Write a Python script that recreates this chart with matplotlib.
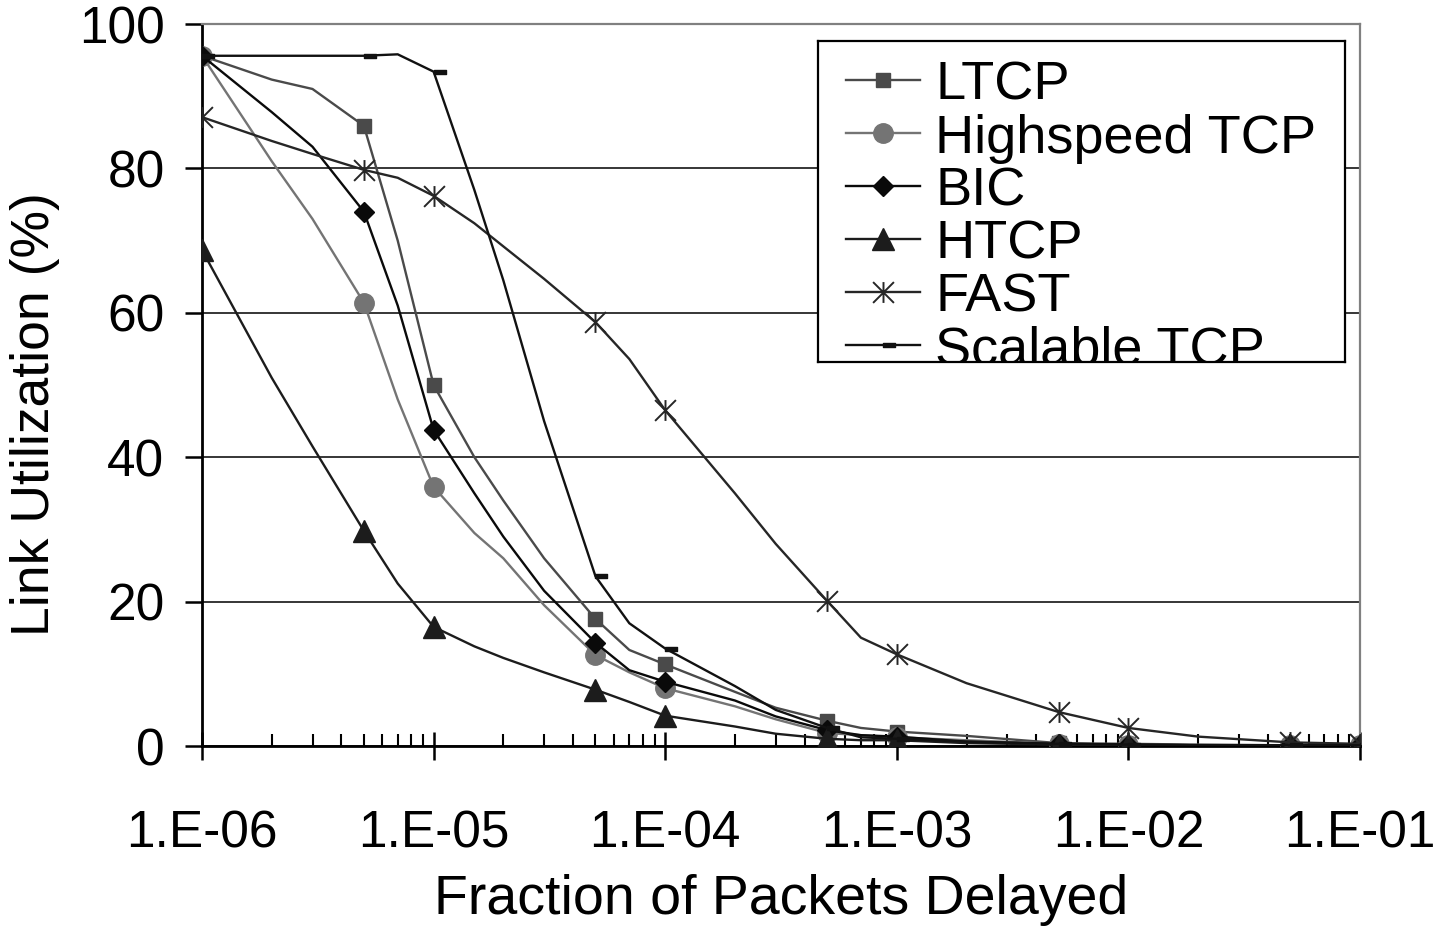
# link_utilization_vs_delay.py

import matplotlib.pyplot as plt
from matplotlib.path import Path
from matplotlib.lines import Line2D

plt.rcParams['font.family'] = ['Liberation Sans', 'DejaVu Sans']

# --- Datos ---
fraction = [1e-6, 2e-6, 3e-6, 5e-6, 7e-6, 1e-5, 1.5e-5, 2e-5, 3e-5, 5e-5, 7e-5, 1e-4,
            2e-4, 3e-4, 5e-4, 7e-4, 1e-3, 2e-3, 5e-3, 1e-2, 2e-2, 5e-2, 1e-1]
marker_idx = [0, 3, 5, 9, 11, 14, 16, 18, 19, 21, 22]

ltcp = [95.6, 92.3, 91.0, 85.9, 70.0, 50.0, 40.0, 34.0, 26.0, 17.6, 13.3, 11.3,
        7.5, 5.3, 3.5, 2.5, 2.0, 1.4, 0.4, 0.3, 0.2, 0.1, 0.1]
highspeed = [95.6, 81.0, 73.0, 61.4, 48.0, 35.9, 29.5, 26.0, 19.5, 12.6, 10.2, 8.0,
             5.5, 3.7, 1.8, 1.5, 1.2, 0.8, 0.3, 0.2, 0.1, 0.1, 0.1]
bic = [95.6, 87.8, 83.0, 74.0, 61.0, 43.8, 35.0, 29.0, 21.5, 14.3, 10.5, 8.9,
       6.3, 4.1, 2.2, 1.5, 1.3, 0.6, 0.3, 0.2, 0.1, 0.1, 0.1]
htcp = [68.7, 51.0, 41.5, 29.8, 22.5, 16.5, 13.8, 12.2, 10.2, 7.8, 6.1, 4.2,
        2.7, 1.7, 1.0, 0.8, 0.8, 0.4, 0.2, 0.1, 0.1, 0.1, 0.1]
fast = [87.1, 83.8, 82.0, 79.8, 78.7, 76.2, 72.4, 69.2, 64.7, 58.7, 53.6, 46.5,
        35.0, 28.0, 20.1, 15.0, 12.7, 8.7, 4.7, 2.5, 1.3, 0.5, 0.3]
scalable = [95.6, 95.6, 95.6, 95.6, 95.8, 93.4, 77.0, 64.5, 45.0, 23.5, 17.0, 13.5,
            8.3, 5.0, 2.5, 1.2, 1.0, 0.6, 0.3, 0.2, 0.1, 0.1, 0.1]

xtick_vals = [1e-6, 1e-5, 1e-4, 1e-3, 1e-2, 1e-1]
xtick_labels = ["1.E-06", "1.E-05", "1.E-04", "1.E-03", "1.E-02", "1.E-01"]
ytick_vals = [0, 20, 40, 60, 80, 100]

# --- Marcadores estilo Excel ---
star = Path([(-1, -1), (1, 1), (-1, 1), (1, -1), (0, -1), (0, 1)],
            [Path.MOVETO, Path.LINETO, Path.MOVETO, Path.LINETO, Path.MOVETO, Path.LINETO])
dash = Path([(0, -0.17), (1, -0.17), (1, 0.17), (0, 0.17), (0, -0.17)],
            [Path.MOVETO, Path.LINETO, Path.LINETO, Path.LINETO, Path.CLOSEPOLY])

series = [
    ("LTCP", ltcp, dict(color="#4a4a4a", marker="s", ms=9.5)),
    ("Highspeed TCP", highspeed, dict(color="#747474", marker="o", ms=14)),
    ("BIC", bic, dict(color="#0a0a0a", marker="D", ms=10.5)),
    ("HTCP", htcp, dict(color="#1c1c1c", marker="^", ms=15.5)),
    ("FAST", fast, dict(color="#262626", marker=star, ms=15, mfc="none", mew=1.4)),
    ("Scalable TCP", scalable, dict(color="#111111", marker=dash, ms=17)),
]

# --- Figura ---
fig = plt.figure(figsize=(14.39, 9.30), dpi=100)
ax = fig.add_axes([202 / 1439, 1 - 746 / 930, 1158 / 1439, 722 / 930])

for name, vals, style in series:
    ax.plot(fraction, vals, lw=1.7, markevery=marker_idx, zorder=3, **style)

ax.set_xscale("log")
ax.set_xlim(1e-6, 1e-1)
ax.set_ylim(0, 100)
ax.set_xticks(xtick_vals)
ax.set_xticklabels(xtick_labels)
ax.set_yticks(ytick_vals)
ax.tick_params(axis="x", which="major", direction="inout", length=20, width=1.8,
               labelsize=37, pad=36)
ax.tick_params(axis="x", which="minor", direction="in", length=8.5, width=1.5)
ax.tick_params(axis="y", which="major", direction="out", length=12, width=1.8,
               labelsize=37, pad=15)
ax.grid(axis="y", color="black", lw=1.1)
ax.set_axisbelow(True)

for side in ("left", "bottom"):
    ax.spines[side].set_linewidth(2.0)
for side in ("top", "right"):
    ax.spines[side].set_color("#808080")
    ax.spines[side].set_linewidth(1.6)

ax.set_xlabel("Fraction of Packets Delayed", fontsize=40, labelpad=11)
ax.set_ylabel("Link Utilization (%)", fontsize=38.5)
ax.yaxis.set_label_coords(-0.123, 0.46)

# --- Leyenda (recortada como en el original) ---
lax = fig.add_axes([818 / 1439, 1 - 362 / 930, 527 / 1439, 321 / 930], zorder=5)
lax.set_xlim(0, 527)
lax.set_ylim(321, 0)
lax.set_xticks([])
lax.set_yticks([])
for sp in lax.spines.values():
    sp.set_linewidth(1.6)
    sp.set_color("black")

for i, (name, vals, style) in enumerate(series):
    base = 59 + i * 53
    lax.add_line(Line2D([28, 65, 102], [base - 20] * 3, lw=1.7, markevery=[1],
                        clip_on=True, **style))
    lax.text(117, base, name, fontsize=39, va="baseline", ha="left", clip_on=True)

plt.savefig("out.png", dpi=100)
